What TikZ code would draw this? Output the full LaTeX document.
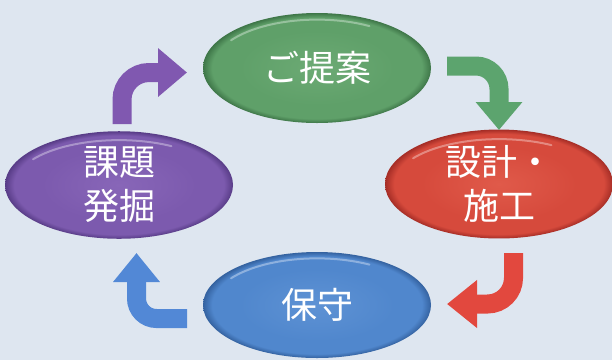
\documentclass[tikz,border=0pt]{standalone}
\usepackage{fontspec}
\newfontfamily\cjk{Noto Sans CJK JP}
\usetikzlibrary{shapes.geometric,arrows.meta}
\definecolor{bg}{RGB}{222,230,240}
% ellipse colours: light, mid, dark
\definecolor{gL}{RGB}{108,170,116}\definecolor{gM}{RGB}{95,160,105}\definecolor{gD}{RGB}{62,118,72}
\definecolor{rL}{RGB}{224,90,74}\definecolor{rM}{RGB}{214,74,60}\definecolor{rD}{RGB}{165,45,38}
\definecolor{pL}{RGB}{136,102,184}\definecolor{pM}{RGB}{124,90,174}\definecolor{pD}{RGB}{88,60,135}
\definecolor{bL}{RGB}{94,146,212}\definecolor{bM}{RGB}{80,135,205}\definecolor{bD}{RGB}{52,98,160}
% arrow colours
\definecolor{aG}{RGB}{92,164,110}
\definecolor{aR}{RGB}{226,72,62}
\definecolor{aP}{RGB}{128,88,176}
\definecolor{aB}{RGB}{82,136,214}
\pgfdeclareradialshading{ovalG}{\pgfpoint{0bp}{0bp}}{color(0bp)=(gL); color(17bp)=(gM); color(23bp)=(gM); color(25bp)=(gD); color(50bp)=(gD)}
\pgfdeclareradialshading{ovalR}{\pgfpoint{0bp}{0bp}}{color(0bp)=(rL); color(17bp)=(rM); color(23bp)=(rM); color(25bp)=(rD); color(50bp)=(rD)}
\pgfdeclareradialshading{ovalP}{\pgfpoint{0bp}{0bp}}{color(0bp)=(pL); color(17bp)=(pM); color(23bp)=(pM); color(25bp)=(pD); color(50bp)=(pD)}
\pgfdeclareradialshading{ovalB}{\pgfpoint{0bp}{0bp}}{color(0bp)=(bL); color(17bp)=(bM); color(23bp)=(bM); color(25bp)=(bD); color(50bp)=(bD)}
\tikzset{
  oval/.style={ellipse, inner sep=0pt, minimum width=228pt, text=white,
    font=\cjk\fontsize{36}{44}\selectfont, align=center, shade},
  gloss/.style={white, opacity=0.35, line width=2pt, line cap=round},
  blockarrow/.style={line width=19pt, line cap=butt},
}
\begin{document}
\begin{tikzpicture}[x=1pt,y=-1pt]
\fill[bg] (0,0) rectangle (612,360);
\useasboundingbox (0,0) rectangle (612,360);

\node[oval, shading=ovalG, minimum height=110pt] (teian) at (317,68) {ご提案};
\node[oval, shading=ovalR, minimum height=102pt] (sekkei) at (499,184) {設計・\\施工};
\node[oval, shading=ovalP, minimum height=102pt] (kadai) at (119,185) {課題\\発掘};
\node[oval, shading=ovalB, minimum height=106pt] (hoshu) at (317,305) {保守};

\foreach \n/\ry in {teian/55,sekkei/51,kadai/51,hoshu/53}{
  \draw[gloss] (\n.center) ++(215:{0.92*114} and {0.88*\ry})
     arc[start angle=215, end angle=300, x radius={0.92*114}, y radius={0.88*\ry}];
}

% arrow anchor points
\coordinate (pS) at (122,124);   \coordinate (pE) at (187,72.5);
\coordinate (gS) at (447,66);    \coordinate (gE) at (499,130);
\coordinate (rS) at (513.5,253); \coordinate (rE) at (447,304);
\coordinate (bS) at (187,318.5); \coordinate (bE) at (136.5,253);

\draw[blockarrow, aP, rounded corners=27pt, -{Triangle[length=29pt,width=47pt]}] (pS) |- (pE);
\draw[blockarrow, aG, rounded corners=23pt, -{Triangle[length=28pt,width=45pt]}] (gS) -| (gE);
\draw[blockarrow, aR, rounded corners=26pt, -{Triangle[length=30pt,width=46pt]}] (rS) |- (rE);
\draw[blockarrow, aB, rounded corners=20pt, -{Triangle[length=29pt,width=45pt]}] (bS) -| (bE);
\end{tikzpicture}
\end{document}
